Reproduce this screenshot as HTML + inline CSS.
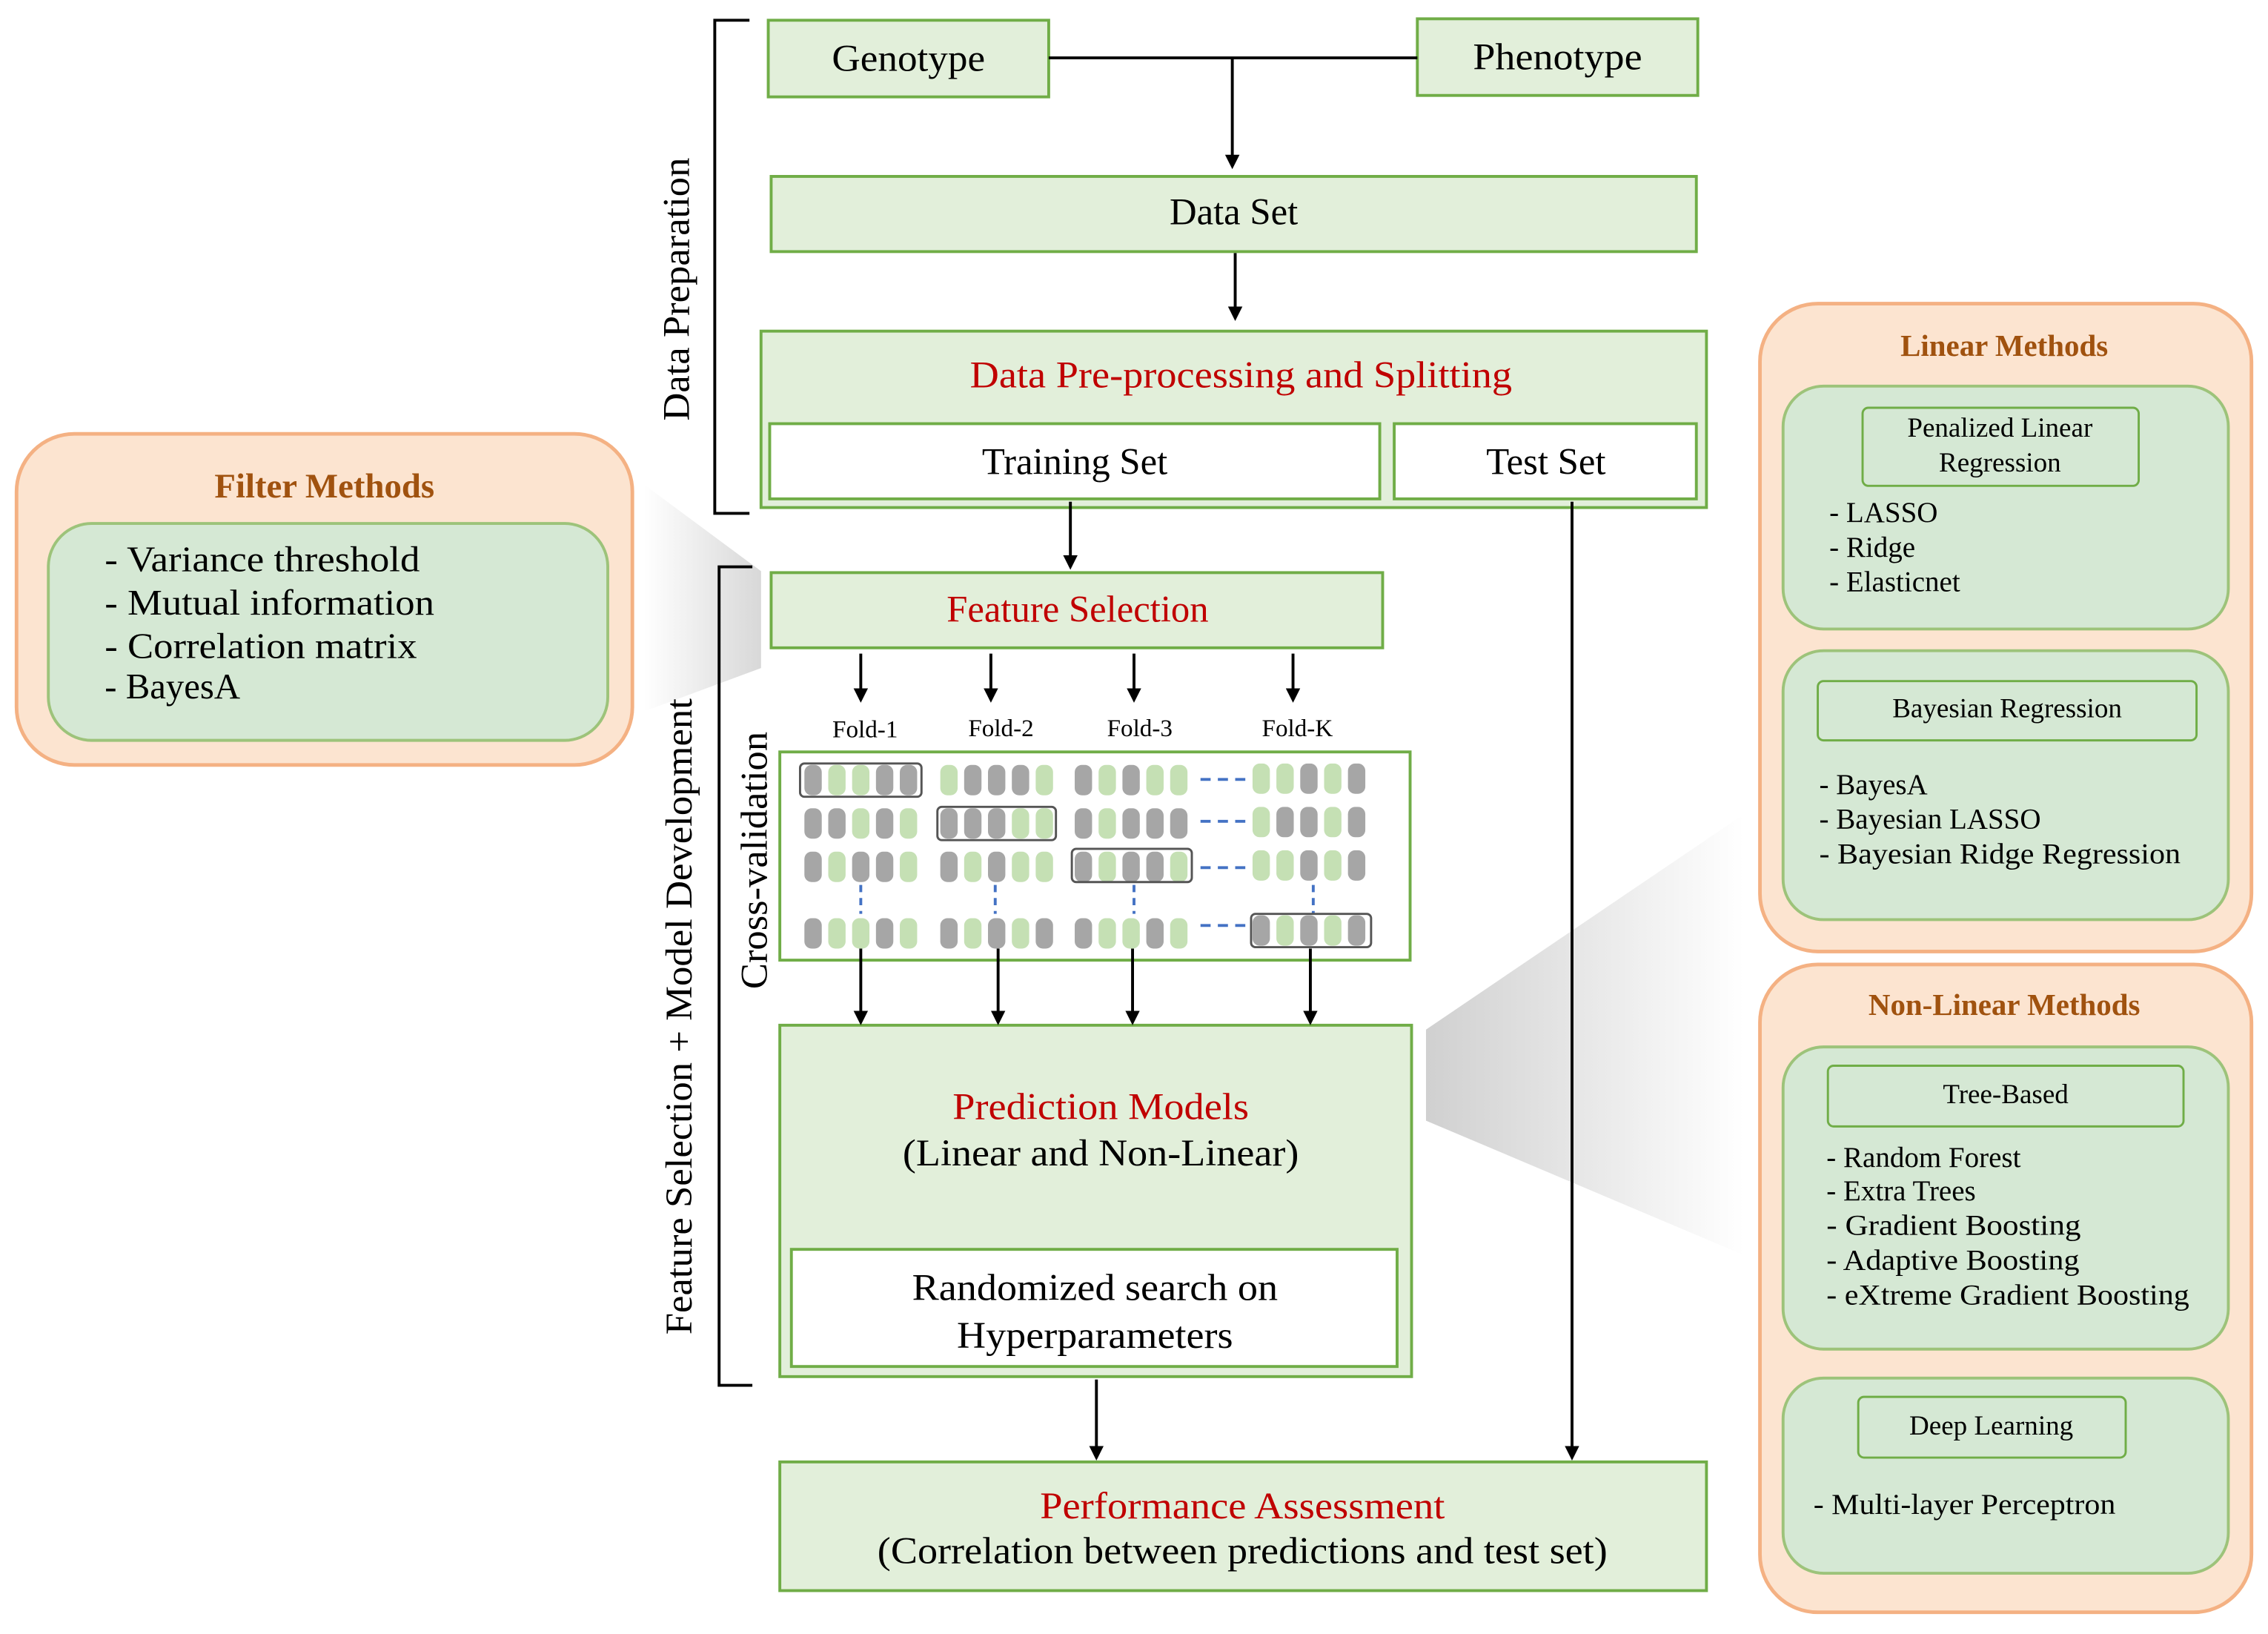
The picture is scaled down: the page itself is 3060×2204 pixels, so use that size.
<!DOCTYPE html>
<html><head><meta charset="utf-8"><style>html,body{margin:0;padding:0;background:#fff}svg{display:block}.G{fill:#a6a6a6}.L{fill:#c5e0b4}</style></head>
<body>
<svg width="3060" height="2204" viewBox="0 0 1568 1130" xmlns="http://www.w3.org/2000/svg" font-family="'Liberation Serif', serif">
<defs>
<marker id="a" markerWidth="10" markerHeight="10" refX="8" refY="5" orient="auto" markerUnits="userSpaceOnUse"><path d="M0,0 L10,5 L0,10 z" fill="#000"/></marker>
<linearGradient id="g1" x1="0" x2="1"><stop offset="0" stop-color="#fff"/><stop offset="1" stop-color="#d8d8d8"/></linearGradient>
<linearGradient id="g2" x1="1" x2="0"><stop offset="0" stop-color="#fff"/><stop offset="1" stop-color="#d0d0d0"/></linearGradient>
<rect id="p" x="-1" width="12" height="21" rx="5"/>
</defs>
<rect width="1568" height="1130" fill="#fff"/>
<polygon points="445,335 526,395 526,462 445,492" fill="url(#g1)"/>
<polygon points="986,712 1206,563 1206,868 986,775" fill="url(#g2)"/>
<g fill="#e2efda" stroke="#70ad47" stroke-width="2">
<rect x="531" y="14" width="194" height="53"/>
<rect x="980" y="13" width="194" height="53"/>
<rect x="533" y="122" width="640" height="52"/>
<rect x="526" y="229" width="654" height="122"/>
<rect x="533" y="396" width="423" height="52"/>
<rect x="539" y="709" width="437" height="243"/>
<rect x="539" y="1011" width="641" height="89"/>
</g>
<g fill="#fff" stroke="#70ad47" stroke-width="2">
<rect x="532" y="293" width="422" height="52"/>
<rect x="964" y="293" width="209" height="52"/>
<rect x="539" y="520" width="436" height="144"/>
<rect x="547" y="864" width="419" height="81"/>
</g>
<g stroke="#000" stroke-width="2" fill="none">
<path d="M725,40 H980 M852,40 V115" marker-end="url(#a)"/>
<line x1="854" y1="175" x2="854" y2="220" marker-end="url(#a)"/>
<line x1="740" y1="347" x2="740" y2="392" marker-end="url(#a)"/>
<line x1="595" y1="452" x2="595" y2="484" marker-end="url(#a)"/>
<line x1="685" y1="452" x2="685" y2="484" marker-end="url(#a)"/>
<line x1="784" y1="452" x2="784" y2="484" marker-end="url(#a)"/>
<line x1="894" y1="452" x2="894" y2="484" marker-end="url(#a)"/>
<line x1="595" y1="656" x2="595" y2="707" marker-end="url(#a)"/>
<line x1="690" y1="656" x2="690" y2="707" marker-end="url(#a)"/>
<line x1="783" y1="656" x2="783" y2="707" marker-end="url(#a)"/>
<line x1="906" y1="656" x2="906" y2="707" marker-end="url(#a)"/>
<line x1="758" y1="954" x2="758" y2="1008" marker-end="url(#a)"/>
<line x1="1087" y1="347" x2="1087" y2="1008" marker-end="url(#a)"/>
<path d="M518,14 H494 V355 H518"/>
<path d="M520,392 H497 V958 H520"/>
</g>
<g font-size="26" text-anchor="middle" fill="#000" lengthAdjust="spacingAndGlyphs">
<text x="628" y="49" textLength="106" lengthAdjust="spacingAndGlyphs">Genotype</text>
<text x="1077" y="48" textLength="117" lengthAdjust="spacingAndGlyphs">Phenotype</text>
<text x="853" y="155">Data Set</text>
<text x="858" y="268" fill="#c00000" textLength="375" lengthAdjust="spacingAndGlyphs">Data Pre-processing and Splitting</text>
<text x="743" y="328">Training Set</text>
<text x="1069" y="328">Test Set</text>
<text x="745" y="430" fill="#c00000">Feature Selection</text>
<text x="761" y="774" fill="#c00000" textLength="205" lengthAdjust="spacingAndGlyphs">Prediction Models</text>
<text x="761" y="806" textLength="274" lengthAdjust="spacingAndGlyphs">(Linear and Non-Linear)</text>
<text x="757" y="899" textLength="253" lengthAdjust="spacingAndGlyphs">Randomized search on</text>
<text x="757" y="932" textLength="191" lengthAdjust="spacingAndGlyphs">Hyperparameters</text>
<text x="859" y="1050" fill="#c00000" textLength="280" lengthAdjust="spacingAndGlyphs">Performance Assessment</text>
<text x="859" y="1081" textLength="505" lengthAdjust="spacingAndGlyphs">(Correlation between predictions and test set)</text>
<text transform="translate(476,200) rotate(-90)" textLength="182" lengthAdjust="spacingAndGlyphs">Data Preparation</text>
<text transform="translate(478,703) rotate(-90)" textLength="440" lengthAdjust="spacingAndGlyphs">Feature Selection + Model Development</text>
<text transform="translate(530,595) rotate(-90)" textLength="178" lengthAdjust="spacingAndGlyphs">Cross-validation</text>
</g>
<g font-size="17" text-anchor="middle">
<text x="598" y="510">Fold-1</text><text x="692" y="509">Fold-2</text><text x="788" y="509">Fold-3</text><text x="897" y="509">Fold-K</text>
</g>
<g transform="translate(557,529)"><use href="#p" x="0" class="G"/><use href="#p" x="16.5" class="L"/><use href="#p" x="33" class="L"/><use href="#p" x="49.5" class="G"/><use href="#p" x="66" class="G"/></g>
<g transform="translate(557,559)"><use href="#p" x="0" class="G"/><use href="#p" x="16.5" class="G"/><use href="#p" x="33" class="L"/><use href="#p" x="49.5" class="G"/><use href="#p" x="66" class="L"/></g>
<g transform="translate(557,589)"><use href="#p" x="0" class="G"/><use href="#p" x="16.5" class="L"/><use href="#p" x="33" class="G"/><use href="#p" x="49.5" class="G"/><use href="#p" x="66" class="L"/></g>
<g transform="translate(557,635)"><use href="#p" x="0" class="G"/><use href="#p" x="16.5" class="L"/><use href="#p" x="33" class="L"/><use href="#p" x="49.5" class="G"/><use href="#p" x="66" class="L"/></g>
<g transform="translate(651,529)"><use href="#p" x="0" class="L"/><use href="#p" x="16.5" class="G"/><use href="#p" x="33" class="G"/><use href="#p" x="49.5" class="G"/><use href="#p" x="66" class="L"/></g>
<g transform="translate(651,559)"><use href="#p" x="0" class="G"/><use href="#p" x="16.5" class="G"/><use href="#p" x="33" class="G"/><use href="#p" x="49.5" class="L"/><use href="#p" x="66" class="L"/></g>
<g transform="translate(651,589)"><use href="#p" x="0" class="G"/><use href="#p" x="16.5" class="L"/><use href="#p" x="33" class="G"/><use href="#p" x="49.5" class="L"/><use href="#p" x="66" class="L"/></g>
<g transform="translate(651,635)"><use href="#p" x="0" class="G"/><use href="#p" x="16.5" class="L"/><use href="#p" x="33" class="G"/><use href="#p" x="49.5" class="L"/><use href="#p" x="66" class="G"/></g>
<g transform="translate(744,529)"><use href="#p" x="0" class="G"/><use href="#p" x="16.5" class="L"/><use href="#p" x="33" class="G"/><use href="#p" x="49.5" class="L"/><use href="#p" x="66" class="L"/></g>
<g transform="translate(744,559)"><use href="#p" x="0" class="G"/><use href="#p" x="16.5" class="L"/><use href="#p" x="33" class="G"/><use href="#p" x="49.5" class="G"/><use href="#p" x="66" class="G"/></g>
<g transform="translate(744,589)"><use href="#p" x="0" class="G"/><use href="#p" x="16.5" class="L"/><use href="#p" x="33" class="G"/><use href="#p" x="49.5" class="G"/><use href="#p" x="66" class="L"/></g>
<g transform="translate(744,635)"><use href="#p" x="0" class="G"/><use href="#p" x="16.5" class="L"/><use href="#p" x="33" class="L"/><use href="#p" x="49.5" class="G"/><use href="#p" x="66" class="L"/></g>
<g transform="translate(867,528)"><use href="#p" x="0" class="L"/><use href="#p" x="16.5" class="L"/><use href="#p" x="33" class="G"/><use href="#p" x="49.5" class="L"/><use href="#p" x="66" class="G"/></g>
<g transform="translate(867,558)"><use href="#p" x="0" class="L"/><use href="#p" x="16.5" class="G"/><use href="#p" x="33" class="G"/><use href="#p" x="49.5" class="L"/><use href="#p" x="66" class="G"/></g>
<g transform="translate(867,588)"><use href="#p" x="0" class="L"/><use href="#p" x="16.5" class="L"/><use href="#p" x="33" class="G"/><use href="#p" x="49.5" class="L"/><use href="#p" x="66" class="G"/></g>
<g transform="translate(867,633)"><use href="#p" x="0" class="G"/><use href="#p" x="16.5" class="L"/><use href="#p" x="33" class="G"/><use href="#p" x="49.5" class="L"/><use href="#p" x="66" class="G"/></g>
<g stroke="#4472c4" stroke-width="2" stroke-dasharray="7,5" fill="none">
<line x1="830" y1="539" x2="862" y2="539"/><line x1="830" y1="568" x2="862" y2="568"/><line x1="830" y1="600" x2="862" y2="600"/><line x1="830" y1="640" x2="862" y2="640"/>
<line x1="595" y1="612" x2="595" y2="632" stroke-dasharray="5,4"/><line x1="688" y1="612" x2="688" y2="632" stroke-dasharray="5,4"/><line x1="784" y1="612" x2="784" y2="632" stroke-dasharray="5,4"/><line x1="908" y1="612" x2="908" y2="632" stroke-dasharray="5,4"/>
</g>
<g stroke="#555" stroke-width="1.5" fill="none">
<rect x="553" y="528" width="84" height="23" rx="3"/>
<rect x="648" y="558" width="82" height="23" rx="3"/>
<rect x="741" y="587" width="83" height="23" rx="3"/>
<rect x="865" y="632" width="83" height="23" rx="3"/>
</g>
<rect x="11" y="300" width="426" height="229" rx="40" fill="#fce4d0" stroke="#f4b183" stroke-width="2.5"/>
<text x="224" y="344" font-size="24" font-weight="bold" fill="#a0520f" text-anchor="middle">Filter Methods</text>
<rect x="33" y="362" width="387" height="150" rx="30" fill="#d5e8d4" stroke="#9dc37a" stroke-width="2"/>
<g font-size="25"><text x="72" y="395" textLength="218" lengthAdjust="spacingAndGlyphs">- Variance threshold</text><text x="72" y="425" textLength="228" lengthAdjust="spacingAndGlyphs">- Mutual information</text><text x="72" y="455" textLength="216" lengthAdjust="spacingAndGlyphs">- Correlation matrix</text><text x="72" y="483">- BayesA</text></g>
<rect x="1217" y="210" width="340" height="448" rx="40" fill="#fce4d0" stroke="#f4b183" stroke-width="2.5"/>
<text x="1386" y="246" font-size="21" font-weight="bold" fill="#a0520f" text-anchor="middle">Linear Methods</text>
<rect x="1233" y="267" width="308" height="168" rx="28" fill="#d5e8d4" stroke="#9dc37a" stroke-width="2"/>
<rect x="1288" y="282" width="191" height="54" rx="4" fill="#d5e8d4" stroke="#70ad47" stroke-width="1.5"/>
<rect x="1233" y="450" width="308" height="186" rx="28" fill="#d5e8d4" stroke="#9dc37a" stroke-width="2"/>
<rect x="1257" y="471" width="262" height="41" rx="4" fill="#d5e8d4" stroke="#70ad47" stroke-width="1.5"/>
<rect x="1217" y="667" width="340" height="448" rx="40" fill="#fce4d0" stroke="#f4b183" stroke-width="2.5"/>
<text x="1386" y="702" font-size="21" font-weight="bold" fill="#a0520f" text-anchor="middle">Non-Linear Methods</text>
<rect x="1233" y="724" width="308" height="209" rx="28" fill="#d5e8d4" stroke="#9dc37a" stroke-width="2"/>
<rect x="1264" y="737" width="246" height="42" rx="4" fill="#d5e8d4" stroke="#70ad47" stroke-width="1.5"/>
<rect x="1233" y="953" width="308" height="135" rx="28" fill="#d5e8d4" stroke="#9dc37a" stroke-width="2"/>
<rect x="1285" y="966" width="185" height="42" rx="4" fill="#d5e8d4" stroke="#70ad47" stroke-width="1.5"/>
<g font-size="19" text-anchor="middle">
<text x="1383" y="302">Penalized Linear</text><text x="1383" y="326">Regression</text>
<text x="1388" y="496">Bayesian Regression</text>
<text x="1387" y="763">Tree-Based</text>
<text x="1377" y="992">Deep Learning</text>
</g>
<g font-size="20">
<text x="1265" y="361">- LASSO</text><text x="1265" y="385">- Ridge</text><text x="1265" y="409">- Elasticnet</text>
<text x="1258" y="549">- BayesA</text><text x="1258" y="573">- Bayesian LASSO</text><text x="1258" y="597" textLength="250" lengthAdjust="spacingAndGlyphs">- Bayesian Ridge Regression</text>
<text x="1263" y="807">- Random Forest</text><text x="1263" y="830">- Extra Trees</text><text x="1263" y="854" textLength="176" lengthAdjust="spacingAndGlyphs">- Gradient  Boosting</text><text x="1263" y="878" textLength="175" lengthAdjust="spacingAndGlyphs">- Adaptive Boosting</text><text x="1263" y="902" textLength="251" lengthAdjust="spacingAndGlyphs">- eXtreme Gradient Boosting</text>
<text x="1254" y="1047" textLength="209" lengthAdjust="spacingAndGlyphs">- Multi-layer Perceptron</text>
</g>
</svg>
</body></html>
